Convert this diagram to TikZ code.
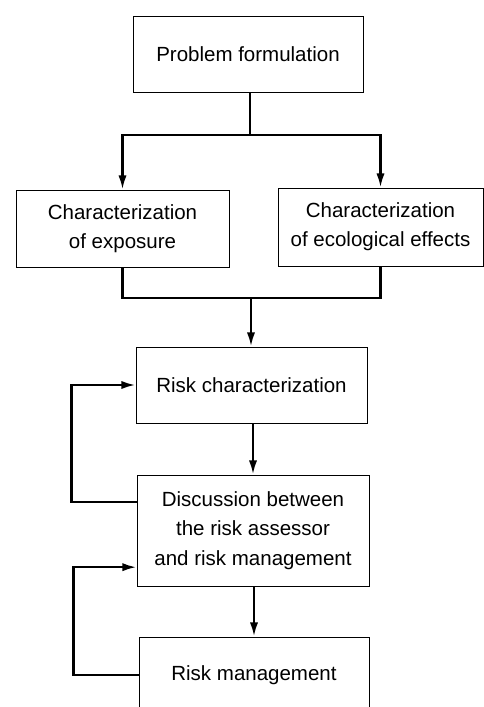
\documentclass[tikz,border=0pt]{standalone}
\usepackage{fontspec}
\setmainfont{Liberation Sans}
\usetikzlibrary{arrows.meta}
\begin{document}
\begin{tikzpicture}[x=0.03cm,y=-0.03cm,
    box/.style={draw,line width=0.8pt,align=center,inner sep=0pt,
      font=\fontsize{17.5}{25}\selectfont},
    link/.style={line width=2pt},
    arr/.style={link,-{Latex[length=12pt,width=7pt]}}]
    \useasboundingbox (0,0) rectangle (484,707);
    \clip (0,0) rectangle (484,707);
    \node[box,minimum width=6.9cm,minimum height=2.28cm] (pf) at (248,54) {Problem formulation};
    \node[box,minimum width=6.39cm,minimum height=2.31cm] (ce) at (122.5,228.5) {Characterization\\of exposure};
    \node[box,minimum width=6.15cm,minimum height=2.34cm] (cef) at (380.5,227) {Characterization\\of ecological effects};
    \node[box,minimum width=6.93cm,minimum height=2.28cm] (rc) at (251.5,385) {Risk characterization};
    \node[box,minimum width=6.96cm,minimum height=3.33cm] (disc) at (253,530.5) {Discussion between\\the risk assessor\\and risk management};
    \node[box,minimum width=6.9cm,minimum height=2.28cm] (rm) at (254,675) {Risk management};
    \coordinate (top) at (250,135);
    \coordinate (mid) at (251,298);
    \draw[link] (pf.south -| top) -- (top);
    \draw[arr] (top) -| (ce.north);
    \draw[arr] (top) -| (cef.north);
    \draw[link] (ce.south) |- (mid) -| (cef.south);
    \draw[arr] (mid) -- (mid |- rc.north);
    \draw[arr] (rc.south -| disc.north) -- (disc.north);
    \draw[arr] (disc.south -| rm.north) -- (rm.north);
    \draw[arr] ([yshift=0.86cm]disc.west) -- ++(-65,0) |- (rc.west);
    \draw[arr] (rm.west) -- ++(-65,0) |- ([yshift=-1.1cm]disc.west);
\end{tikzpicture}
\end{document}
